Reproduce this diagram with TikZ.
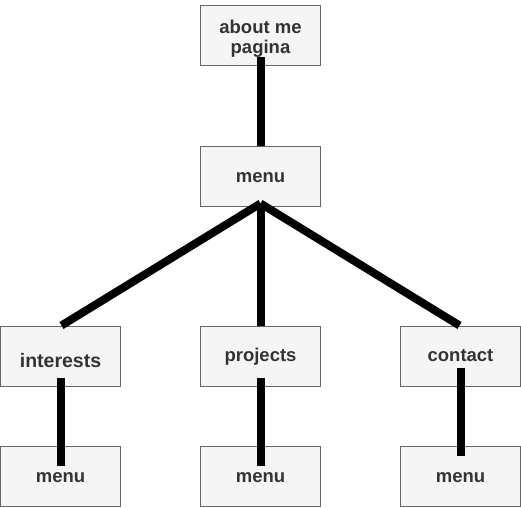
\documentclass[tikz,border=0pt]{standalone}
\usepackage{fontspec}
\setmainfont{Liberation Sans}
\begin{document}
\begin{tikzpicture}[x=1pt,y=1pt,
  box/.style={draw=black!60,fill=black!4,line width=1pt,minimum width=120pt,minimum height=60pt,inner sep=0pt,
    text=black!80,font=\fontsize{18.5}{20}\selectfont\bfseries,align=center},
  link/.style={line width=8pt,line cap=butt,draw=black}]
\useasboundingbox (0,0) rectangle (521,507);
\node[box,text height=38.6pt,text depth=4pt] (top) at (260.5,471) {about me\\pagina};
\node[box,text height=13.5pt,text depth=0pt] (menu) at (260.5,331) {menu};
\node[box,font=\fontsize{19.5}{22}\selectfont\bfseries,text height=22pt,text depth=0pt] (int) at (60.5,151) {interests};
\node[box,text height=15pt,text depth=4pt] (proj) at (260.5,151) {projects};
\node[box,text height=15pt,text depth=4pt] (cont) at (460.5,151) {contact};
\node[box,text height=13.5pt,text depth=0pt] (m1) at (60.5,31) {menu};
\node[box,text height=13.5pt,text depth=0pt] (m2) at (260.5,31) {menu};
\node[box,text height=13.5pt,text depth=0pt] (m3) at (460.5,31) {menu};
\draw[link] ([yshift=9pt]top.south) -- (menu.north);
\draw[link] ([yshift=3pt]menu.south) -- ([xshift=1pt]int.north);
\draw[link] ([yshift=3pt]menu.south) -- (proj.north);
\draw[link] ([yshift=3pt]menu.south) -- ([xshift=-1pt]cont.north);
\draw[link] ([yshift=9pt]int.south) -- ([yshift=-20pt]m1.north);
\draw[link] ([yshift=9pt]proj.south) -- ([yshift=-20pt]m2.north);
\draw[link] ([yshift=19pt]cont.south) -- ([yshift=-10pt]m3.north);
\end{tikzpicture}
\end{document}
